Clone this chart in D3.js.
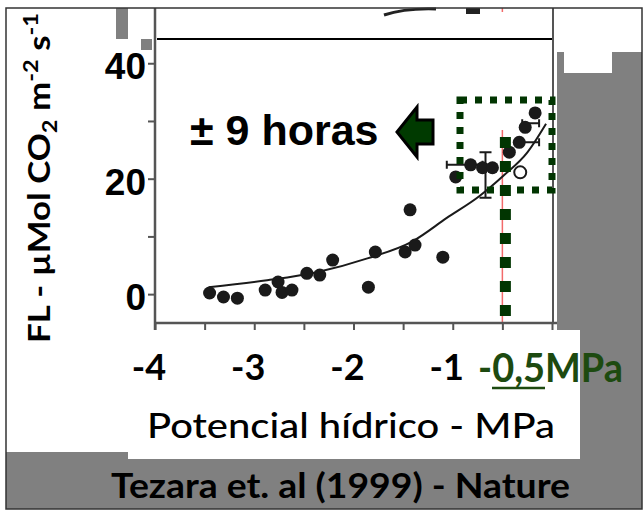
<!DOCTYPE html>
<html>
<head>
<meta charset="utf-8">
<script src="https://cdn.jsdelivr.net/npm/d3@7"></script>
<style>
body { margin: 0; background: #fff; }
svg { display: block; }
</style>
</head>
<body>
<script>
// data
const ptX = [-3.45, -3.31, -3.17, -2.89, -2.76, -2.72, -2.62, -2.47, -2.34, -2.21, -1.85, -1.78, -1.48, -1.38, -1.43, -1.10, -0.97, -0.82, -0.70, -0.60, -0.43, -0.33, -0.27, -0.17];
const ptY = [0.2, -0.5, -0.7, 0.7, 2.1, 0.3, 0.7, 3.6, 3.3, 5.9, 1.2, 7.3, 7.3, 8.5, 14.6, 6.4, 20.3, 22.4, 21.9, 21.9, 24.6, 26.3, 28.9, 31.4];
const openX = [-0.32];
const openY = [21.1];
const fitX = [-3.46, -2.87, -2.37, -1.86, -1.40, -1.06, -0.73, -0.49, -0.25, -0.06];
const fitY = [1.2, 2.4, 3.8, 6.2, 9.2, 13.2, 17.0, 20.5, 24.5, 29.5];
const vErrX = [-0.67];
const vErrLo = [16.7];
const vErrHi = [24.6];
const hErrY = [22.4, 26.3, 29.6];
const hErrLo = [-1.06, -0.36, -0.30];
const hErrHi = [-0.70, -0.13, -0.13];
const yTicks = [0, 10, 20, 30, 40];
const yLabels = ['0', '', '20', '', '40'];
const xTicks = [-4, -3.5, -3, -2.5, -2, -1.5, -1, -0.5, 0];
const xLabelVals = [-4, -3, -2, -1];
const xLabels = ['-4', '-3', '-2', '-1'];
const markX = -0.5;

const width = 644;
const height = 513;
const gray = '#808080';
const green = '#013501';

const svg = d3.select('body').append('svg')
    .attr('width', width)
    .attr('height', height);

const xScale = d3.scaleLinear().domain([-4, 0]).range([155, 552]);
const yScale = d3.scaleLinear().domain([-5, 44.2]).range([323, 39]);

// slide background pieces
const bg = svg.append('g');
bg.append('rect').attr('x', 557).attr('y', 52).attr('width', 85).attr('height', 278).attr('fill', gray);
bg.append('rect').attr('x', 580).attr('y', 329).attr('width', 62).attr('height', 131).attr('fill', gray);
bg.append('rect').attr('x', 6).attr('y', 459).attr('width', 636).attr('height', 50).attr('fill', gray);
bg.append('rect').attr('x', 6).attr('y', 452).attr('width', 122).attr('height', 8).attr('fill', gray);
bg.append('rect').attr('x', 564).attr('y', 51).attr('width', 48).attr('height', 22).attr('fill', '#fff');
bg.append('rect').attr('x', 116).attr('y', 8).attr('width', 12).attr('height', 31).attr('fill', gray);
bg.append('rect').attr('x', 141).attr('y', 39).attr('width', 11).attr('height', 11).attr('fill', gray);

// bits of the pasted figure peeking out above the white box
svg.append('path').attr('d', 'M384,15 Q405,8 436,9').attr('stroke', '#222').attr('stroke-width', 3).attr('fill', 'none');
svg.append('rect').attr('x', 466).attr('y', 8).attr('width', 14).attr('height', 6).attr('fill', '#222');

// red reference line
svg.append('line')
    .attr('x1', xScale(markX)).attr('x2', xScale(markX))
    .attr('y1', 130).attr('y2', yScale(-5))
    .attr('stroke', '#f26a6a').attr('stroke-width', 1.5);
svg.append('line')
    .attr('x1', xScale(markX)).attr('x2', xScale(markX))
    .attr('y1', 8).attr('y2', 12)
    .attr('stroke', '#f26a6a').attr('stroke-width', 1.5);

// frame lines
svg.append('line').attr('x1', 157).attr('x2', 553).attr('y1', 39).attr('y2', 39)
    .attr('stroke', '#000').attr('stroke-width', 2);
svg.append('line').attr('x1', 553).attr('x2', 553).attr('y1', 8).attr('y2', 323)
    .attr('stroke', '#555').attr('stroke-width', 2);
svg.append('line').attr('x1', 155).attr('x2', 155).attr('y1', 8).attr('y2', 330)
    .attr('stroke', '#555').attr('stroke-width', 2.5);

// axes
const yAxis = d3.axisLeft(yScale).tickValues(yTicks).tickSize(7).tickFormat('');
svg.append('g').attr('transform', 'translate(155,0)').call(yAxis)
    .call(g => g.select('.domain').remove())
    .call(g => g.selectAll('line').attr('stroke', '#555').attr('stroke-width', 2));

const xAxis = d3.axisBottom(xScale).tickValues(xTicks).tickSize(7).tickFormat('');
svg.append('g').attr('transform', 'translate(0,323)').call(xAxis)
    .call(g => g.select('.domain').remove())
    .call(g => g.selectAll('line').attr('stroke', '#555').attr('stroke-width', 2));
svg.append('line').attr('x1', 154).attr('x2', 557).attr('y1', 323).attr('y2', 323)
    .attr('stroke', '#555').attr('stroke-width', 2.5);

// white label area under the x axis
svg.append('rect').attr('x', 128).attr('y', 330).attr('width', 452).attr('height', 129).attr('fill', '#fff');

svg.selectAll('.ylab')
    .data(yTicks)
    .enter()
    .append('text')
    .attr('class', 'ylab')
    .attr('x', 146)
    .attr('y', d => yScale(d) + 16)
    .attr('text-anchor', 'end')
    .style('font', 'bold 37px "Liberation Sans", Arial, sans-serif')
    .text((d, i) => yLabels[i]);

svg.selectAll('.xlab')
    .data(xLabelVals)
    .enter()
    .append('text')
    .attr('class', 'xlab')
    .attr('x', d => xScale(d) - 6)
    .attr('y', 380)
    .attr('text-anchor', 'middle')
    .style('font', 'bold 36px Lato, sans-serif')
    .text((d, i) => xLabels[i]);

svg.append('text')
    .attr('x', 478).attr('y', 382)
    .attr('textLength', 145).attr('lengthAdjust', 'spacingAndGlyphs')
    .attr('fill', '#1d4a10')
    .style('font', 'bold 41px Lato, sans-serif')
    .text('-0,5MPa');
svg.append('line').attr('x1', 492).attr('x2', 545).attr('y1', 388).attr('y2', 388)
    .attr('stroke', '#1d4a10').attr('stroke-width', 2.5);

svg.append('text')
    .attr('x', 147).attr('y', 438)
    .attr('textLength', 408).attr('lengthAdjust', 'spacingAndGlyphs')
    .style('font', '500 35px Lato, sans-serif')
    .text('Potencial hídrico - MPa');

svg.append('text')
    .attr('x', 111).attr('y', 498)
    .attr('textLength', 459).attr('lengthAdjust', 'spacingAndGlyphs')
    .style('font', 'bold 34px Lato, sans-serif')
    .text('Tezara et. al (1999) - Nature');

const yt = svg.append('text')
    .attr('transform', 'translate(50,178) rotate(-90)')
    .attr('text-anchor', 'middle')
    .attr('textLength', 330).attr('lengthAdjust', 'spacingAndGlyphs')
    .style('font', 'bold 31px Lato, sans-serif');
yt.append('tspan').text('FL - µMol CO');
yt.append('tspan').attr('dy', 7).style('font-size', '21px').text('2');
yt.append('tspan').attr('dy', -7).text(' m');
yt.append('tspan').attr('dy', -12).style('font-size', '21px').text('-2');
yt.append('tspan').attr('dy', 12).text(' s');
yt.append('tspan').attr('dy', -12).style('font-size', '21px').text('-1');

// fitted curve
const line = d3.line()
    .x(d => xScale(d[0]))
    .y(d => yScale(d[1]))
    .curve(d3.curveMonotoneX);
svg.append('path')
    .datum(fitX.map((x, i) => [x, fitY[i]]))
    .attr('d', line)
    .attr('fill', 'none')
    .attr('stroke', '#1a1a1a')
    .attr('stroke-width', 2);

// error bars
svg.selectAll('.verr')
    .data(vErrX)
    .enter()
    .append('path')
    .attr('class', 'verr')
    .attr('d', (d, i) => {
        const x = xScale(d), y1 = yScale(vErrLo[i]), y2 = yScale(vErrHi[i]);
        return `M${x},${y1}V${y2}M${x - 6},${y1}H${x + 6}M${x - 6},${y2}H${x + 6}`;
    })
    .attr('stroke', '#1a1a1a').attr('stroke-width', 2).attr('fill', 'none');
svg.selectAll('.herr')
    .data(hErrY)
    .enter()
    .append('path')
    .attr('class', 'herr')
    .attr('d', (d, i) => {
        const y = yScale(d), x1 = xScale(hErrLo[i]), x2 = xScale(hErrHi[i]);
        return `M${x1},${y}H${x2}M${x1},${y - 4}V${y + 4}M${x2},${y - 4}V${y + 4}`;
    })
    .attr('stroke', '#1a1a1a').attr('stroke-width', 2).attr('fill', 'none');

svg.selectAll('.pt')
    .data(ptX)
    .enter()
    .append('circle')
    .attr('class', 'pt')
    .attr('cx', d => xScale(d))
    .attr('cy', (d, i) => yScale(ptY[i]))
    .attr('r', 6.5)
    .attr('fill', '#1a1a1a');

svg.selectAll('.open')
    .data(openX)
    .enter()
    .append('circle')
    .attr('class', 'open')
    .attr('cx', d => xScale(d))
    .attr('cy', (d, i) => yScale(openY[i]))
    .attr('r', 6)
    .attr('fill', '#fff')
    .attr('stroke', '#1a1a1a')
    .attr('stroke-width', 2);

// annotation: dotted box, dashed drop line, arrow, text
svg.append('rect')
    .attr('x', 460).attr('y', 100).attr('width', 92).attr('height', 90)
    .attr('fill', 'none').attr('stroke', green)
    .attr('stroke-width', 7).attr('stroke-dasharray', '7 8');
svg.append('line')
    .attr('x1', xScale(markX) + 3).attr('x2', xScale(markX) + 3)
    .attr('y1', 137).attr('y2', 318)
    .attr('stroke', green).attr('stroke-width', 11).attr('stroke-dasharray', '11 13');

svg.append('path')
    .attr('d', 'M397,132 L417,107 L417,120 L433,120 L433,144 L417,144 L417,157 Z')
    .attr('fill', '#003a00').attr('stroke', '#000').attr('stroke-width', 3)
    .attr('stroke-linejoin', 'miter');

svg.append('text')
    .attr('x', 190).attr('y', 145)
    .style('font', 'bold 43px "Liberation Sans", Arial, sans-serif')
    .text('± 9 horas');

// outer border
svg.append('rect')
    .attr('x', 6).attr('y', 8).attr('width', 636).attr('height', 501)
    .attr('fill', 'none').attr('stroke', '#333').attr('stroke-width', 1.5);
</script>
</body>
</html>
